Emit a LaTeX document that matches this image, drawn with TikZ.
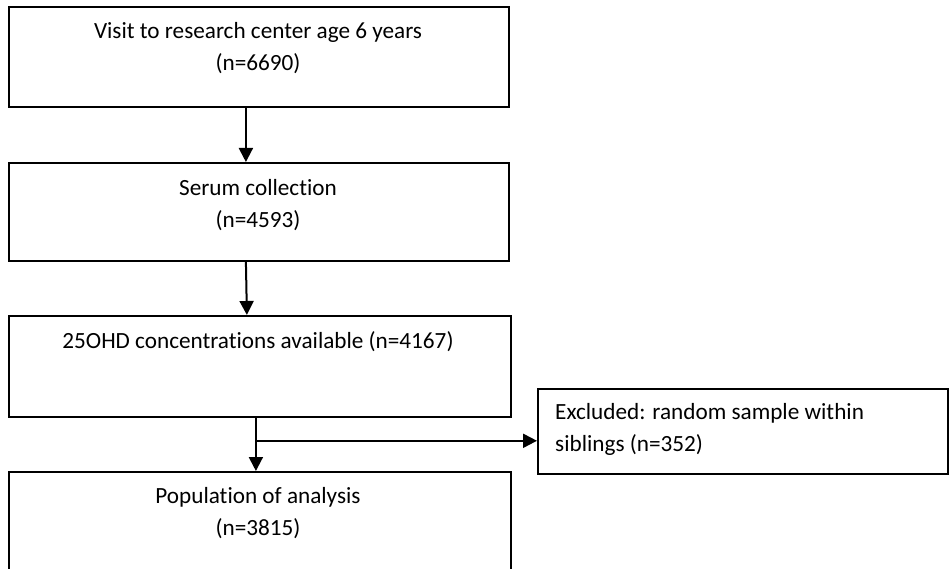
\documentclass[tikz,border=0pt]{standalone}
\usepackage{fontspec}
\setmainfont[Ligatures=NoCommon,RawFeature={-liga;-clig;-calt}]{Carlito}
\usetikzlibrary{arrows.meta,positioning}
\begin{document}
\begin{tikzpicture}[x=1pt,y=-1pt,
    box/.style={draw,line width=1.8pt,inner sep=0pt,anchor=north west},
    txt/.style={font=\fontsize{23.2}{32}\selectfont,align=center,inner sep=0pt},
    flow/.style={line width=2pt,-{Triangle[width=14pt,length=14pt]}}]
  \useasboundingbox (0,0) rectangle (950,569);
  \node[box,minimum width=500pt,minimum height=100pt] (visit) at (8,6) {};
  \node[box,minimum width=500pt,minimum height=98pt] (serum) at (8,162) {};
  \node[box,minimum width=502pt,minimum height=101pt] (conc) at (8,315) {};
  \node[box,minimum width=502pt,minimum height=120pt] (pop) at (8,471) {};
  \node[box,minimum width=410pt,minimum height=85pt] (excl) at (537,388) {};
  \node[txt] (visittxt) at (258,48) {Visit to research center age 6 years\\(n=6690)};
  \node[txt] (serumtxt) at (258,205) {Serum collection\\(n=4593)};
  \node[txt] (conctxt) at (258,342) {25OHD concentrations available (n=4167)};
  \node[txt] (poptxt) at (258,513) {Population of analysis\\(n=3815)};
  \node[txt,align=left,anchor=west] (excltxt) at (555,429) {Excluded: random sample within\\siblings (n=352)};
  \coordinate (split) at ([xshift=-4pt,yshift=-23pt]conc.south);
  \draw[flow] ([xshift=-13pt]visit.south) -- ([xshift=-13pt]serum.north);
  \draw[flow] ([xshift=-13pt]serum.south) -- ([xshift=-13pt]conc.north);
  \draw[flow] ([xshift=-4pt]conc.south) -- ([xshift=-4pt]pop.north);
  \draw[flow] (split) -- (split -| excl.west);
\end{tikzpicture}
\end{document}
